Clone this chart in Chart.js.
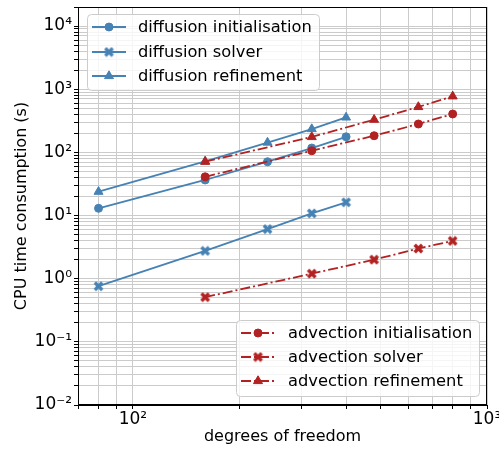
<!DOCTYPE html>
<html>
<head>
<meta charset="utf-8">
<script src="https://cdn.jsdelivr.net/npm/chart.js@4.4.1/dist/chart.umd.min.js"></script>
<style>
    body { margin: 0; background: #fff; }
    #wrap { width: 499px; height: 449px; }
</style>
</head>
<body>
<div id="wrap"><canvas id="chart"></canvas></div>
<script>
// values
const diffusion_dof = [80, 160, 240, 320, 400];
const diffusion_init = [13.0, 36.5, 71, 117, 176];
const diffusion_solver = [0.76, 2.75, 6.1, 10.8, 16.2];
const diffusion_refine = [23.8, 72, 143, 234, 357];

const advection_dof = [160, 320, 480, 640, 800];
const advection_init = [41, 106, 183, 281, 405];
const advection_solver = [0.51, 1.2, 2.0, 3.0, 3.96];
const advection_refine = [71, 175, 329, 523, 771];

const x_decades = [2, 3];
const x_tick_labels = ['10²', '10³'];
const y_decades = [-2, -1, 0, 1, 2, 3, 4];
const y_tick_labels = ['10⁻²', '10⁻¹', '10⁰', '10¹', '10²', '10³', '10⁴'];

const BLUE = '#4682b4';
const RED = '#b22222';
const FONT = '"DejaVu Sans", sans-serif';

// filled "X" marker like matplotlib's
function x_marker(color) {
    const c = document.createElement('canvas');
    c.width = 11;
    c.height = 11;
    const ctx = c.getContext('2d');
    ctx.strokeStyle = color;
    ctx.lineWidth = 3.4;
    ctx.lineCap = 'butt';
    ctx.beginPath();
    ctx.moveTo(1.8, 1.8); ctx.lineTo(9.2, 9.2);
    ctx.moveTo(9.2, 1.8); ctx.lineTo(1.8, 9.2);
    ctx.stroke();
    return c;
}

function points(xs, ys) {
    return xs.map((x, i) => ({x: x, y: ys[i]}));
}

function series(label, xs, ys, color, style, dashed, order) {
    return {
        label: label,
        data: points(xs, ys),
        borderColor: color,
        backgroundColor: color,
        borderWidth: 1.8,
        borderDash: dashed ? [10, 3, 2, 3] : [],
        pointStyle: style,
        pointRadius: style === 'triangle' ? 5.2 : 4,
        pointBorderWidth: 1,
        pointBorderColor: color,
        pointBackgroundColor: color,
        tension: 0,
        fill: false,
        order: order
    };
}

const datasets = [
    series('diffusion initialisation', diffusion_dof, diffusion_init, BLUE, 'circle', false, 2),
    series('diffusion solver', diffusion_dof, diffusion_solver, BLUE, x_marker(BLUE), false, 2),
    series('diffusion refinement', diffusion_dof, diffusion_refine, BLUE, 'triangle', false, 2),
    series('advection initialisation', advection_dof, advection_init, RED, 'circle', true, 1),
    series('advection solver', advection_dof, advection_solver, RED, x_marker(RED), true, 1),
    series('advection refinement', advection_dof, advection_refine, RED, 'triangle', true, 1)
];

function log_ticks(min, max) {
    const ticks = [];
    for (let e = Math.floor(Math.log10(min)); e <= Math.ceil(Math.log10(max)); e++) {
        for (let m = 1; m < 10; m++) {
            const v = Number((m * Math.pow(10, e)).toPrecision(6));
            if (v >= min && v <= max) ticks.push({value: v});
        }
    }
    return ticks;
}

function decade_label(value, decades, labels) {
    const i = decades.findIndex(d => Math.abs(Math.log10(value) - d) < 1e-9);
    return i >= 0 ? labels[i] : '';
}

const grid = {
    color: '#cbcbcb',
    lineWidth: 1,
    tickColor: '#000',
    tickLength: 4,
    tickWidth: 1
};

// two legend boxes inside the plot, like the original
const legends_plugin = {
    id: 'legends',
    afterDraw(chart) {
        const ctx = chart.ctx;
        const area = chart.chartArea;

        ctx.save();
        ctx.strokeStyle = '#000';
        ctx.lineWidth = 1;
        ctx.strokeRect(area.left + 0.5, area.top + 0.5, area.right - area.left - 1, area.bottom - area.top - 1);
        ctx.restore();

        const boxes = [
            {x: 87, y: 14, w: 232, h: 76, rows: [27, 52, 76], items: [0, 1, 2], lx: 92, tx: 138},
            {x: 236, y: 320, w: 243, h: 76, rows: [333, 357, 381], items: [3, 4, 5], lx: 241, tx: 288}
        ];
        boxes.forEach(b => {
            ctx.save();
            ctx.beginPath();
            ctx.roundRect(b.x + 0.5, b.y + 0.5, b.w, b.h, 4);
            ctx.fillStyle = 'rgba(255,255,255,0.8)';
            ctx.fill();
            ctx.strokeStyle = '#cccccc';
            ctx.lineWidth = 1;
            ctx.stroke();
            b.items.forEach((idx, r) => {
                const ds = chart.data.datasets[idx];
                const y = b.rows[r];
                ctx.strokeStyle = ds.borderColor;
                ctx.fillStyle = ds.backgroundColor;
                ctx.lineWidth = ds.borderWidth;
                ctx.setLineDash(ds.borderDash);
                ctx.beginPath();
                ctx.moveTo(b.lx, y);
                ctx.lineTo(b.lx + 34, y);
                ctx.stroke();
                ctx.setLineDash([]);
                ctx.lineWidth = ds.pointBorderWidth;
                Chart.helpers.drawPoint(ctx, {
                    pointStyle: ds.pointStyle,
                    radius: ds.pointRadius,
                    rotation: 0,
                    borderWidth: ds.pointBorderWidth
                }, b.lx + 17, y);
                ctx.fillStyle = '#000';
                ctx.font = '16.3px ' + FONT;
                ctx.textBaseline = 'middle';
                ctx.textAlign = 'left';
                ctx.fillText(ds.label, b.tx, y + 1);
            });
            ctx.restore();
        });
    }
};

new Chart(document.getElementById('chart'), {
    type: 'line',
    data: {datasets: datasets},
    options: {
        responsive: true,
        maintainAspectRatio: false,
        animation: false,
        layout: {
            padding: {top: 7, right: 12, left: 0, bottom: 0}
        },
        plugins: {
            legend: {display: false},
            tooltip: {enabled: false}
        },
        scales: {
            x: {
                type: 'logarithmic',
                min: 70,
                max: 1000,
                grid: grid,
                border: {color: '#000', width: 1},
                afterBuildTicks: scale => { scale.ticks = log_ticks(70, 1000); },
                afterFit: scale => {
                    scale.height = 44;
                    scale.paddingLeft = 0;
                    scale.paddingRight = 0;
                },
                ticks: {
                    autoSkip: false,
                    maxRotation: 0,
                    padding: 0,
                    color: '#000',
                    font: {family: FONT, size: 17},
                    callback: value => decade_label(value, x_decades, x_tick_labels)
                },
                title: {
                    display: true,
                    text: 'degrees of freedom',
                    color: '#000',
                    font: {family: FONT, size: 16},
                    padding: {top: 0, bottom: 3}
                }
            },
            y: {
                type: 'logarithmic',
                min: 0.01,
                max: 20000,
                grid: grid,
                border: {color: '#000', width: 1},
                afterBuildTicks: scale => { scale.ticks = log_ticks(0.01, 20000); },
                afterFit: scale => {
                    scale.width = 78;
                    scale.paddingTop = 0;
                    scale.paddingBottom = 0;
                },
                ticks: {
                    autoSkip: false,
                    padding: 2,
                    color: '#000',
                    font: {family: FONT, size: 17},
                    callback: value => decade_label(value, y_decades, y_tick_labels)
                },
                title: {
                    display: true,
                    text: 'CPU time consumption (s)',
                    color: '#000',
                    font: {family: FONT, size: 16},
                    padding: {top: 12, bottom: 0}
                }
            }
        }
    },
    plugins: [legends_plugin]
});
</script>
</body>
</html>
